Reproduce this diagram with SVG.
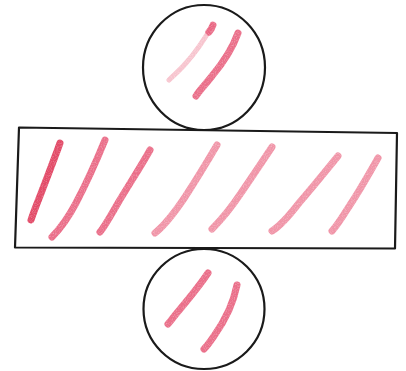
<svg xmlns="http://www.w3.org/2000/svg" width="406" height="371" viewBox="0 0 406 371">
  <style>
    .outline { fill: none; stroke: #1a1a1a; stroke-width: 2.2; stroke-linejoin: round; }
    .crayon { fill: none; stroke-linecap: round; stroke-linejoin: round; stroke-width: 7; }
    .strong { stroke: #e0405f; opacity: 0.95; }
    .mid { stroke: #e65574; opacity: 0.85; }
    .light { stroke: #ec7a92; opacity: 0.8; }
    .faint { stroke: #f2a5b4; opacity: 0.65; stroke-width: 5; }
  </style>
  <defs>
    <filter id="grain" x="-10%" y="-10%" width="120%" height="120%">
      <feTurbulence type="fractalNoise" baseFrequency="0.9" numOctaves="2" seed="3" result="noise"/>
      <feColorMatrix in="noise" type="matrix" values="0 0 0 0 0  0 0 0 0 0  0 0 0 0 0  0 0 0 -0.7 1.3" result="mask"/>
      <feComposite in="SourceGraphic" in2="mask" operator="in"/>
    </filter>
  </defs>
  <rect width="406" height="371" fill="#ffffff"/>

  <g id="top-circle">
    <ellipse class="outline" cx="204" cy="67.5" rx="61" ry="62.5"/>
    <g filter="url(#grain)">
      <path class="crayon faint" d="M212 26 C204 40 196 52 186 63 C180 70 174 75 169 80"/>
      <path class="crayon mid" stroke-width="3.5" d="M213 25 C212 28 211 30 209 32"/>
      <path class="crayon mid" d="M238 33 C232 50 222 64 212 76 C205 85 199 91 196 96"/>
    </g>
  </g>

  <g id="rectangle">
    <path class="outline" d="M19 127.5 L397 133 L395 248.5 L15 247.5 Z"/>
    <g filter="url(#grain)">
      <path class="crayon strong" stroke-width="8" d="M60 143 C54 160 46 180 40 196 C36 206 33 214 31 220"/>
      <path class="crayon mid" d="M105 140 C96 162 86 184 76 203 C67 220 59 230 52 237"/>
      <path class="crayon mid" d="M150 150 C140 168 128 186 118 203 C111 215 105 226 100 232"/>
      <path class="crayon light" d="M217 145 C207 162 196 180 185 197 C175 212 165 225 155 233"/>
      <path class="crayon light" d="M272 147 C262 162 252 177 241 193 C231 208 221 220 212 229"/>
      <path class="crayon light" d="M338 156 C325 172 312 188 299 203 C289 216 280 226 272 231"/>
      <path class="crayon light" d="M378 158 C369 174 360 190 350 205 C343 216 337 226 332 231"/>
    </g>
  </g>

  <g id="bottom-circle">
    <ellipse class="outline" cx="204" cy="309" rx="60.5" ry="60"/>
    <g filter="url(#grain)">
      <path class="crayon mid" d="M208 273 C198 288 186 302 176 314 C172 319 170 322 168 324"/>
      <path class="crayon mid" d="M237 285 C233 305 224 322 214 336 C210 342 207 346 204 349"/>
    </g>
  </g>
</svg>
